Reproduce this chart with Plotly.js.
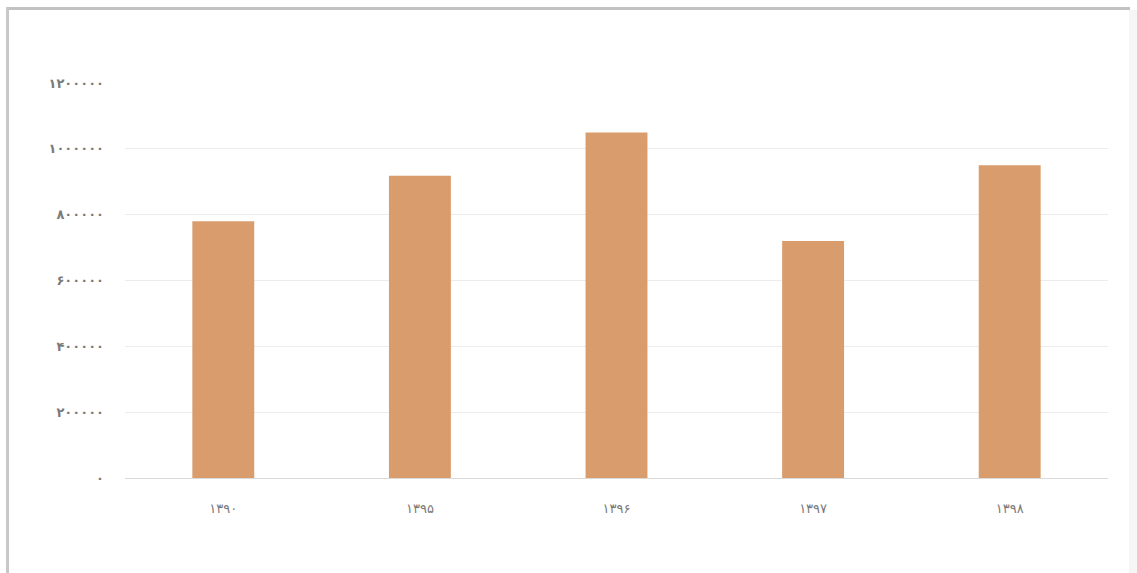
<!DOCTYPE html>
<html>
<head>
<meta charset="utf-8">
<script src="https://cdn.plot.ly/plotly-3.0.1.min.js"></script>
<style>
  html, body { margin: 0; padding: 0; background: #fff; width: 1137px; height: 573px; overflow: hidden; }
  #chart { position: absolute; left: 0; top: 0; width: 1137px; height: 573px; }
  #frameTop { position: absolute; left: 6px; top: 7px; width: 1124px; height: 3px; background: #c2c2c2; pointer-events: none; }
  #frameLeft { position: absolute; left: 6px; top: 7px; width: 3px; height: 566px; background: #c8c8c8; pointer-events: none; }
  #frameRight { position: absolute; left: 1129px; top: 10px; width: 8px; height: 563px; background: #f6f6f6; pointer-events: none; }
</style>
</head>
<body>
<div id="chart"></div>
<div id="frameTop"></div>
<div id="frameLeft"></div>
<div id="frameRight"></div>
<script>
const categories = ["۱۳۹۰", "۱۳۹۵", "۱۳۹۶", "۱۳۹۷", "۱۳۹۸"];
const values = [780000, 918000, 1050000, 720000, 950000];
const yTickVals = [0, 200000, 400000, 600000, 800000, 1000000, 1200000];
const yTickText = ["۰", "۲۰۰۰۰۰", "۴۰۰۰۰۰", "۶۰۰۰۰۰", "۸۰۰۰۰۰", "۱۰۰۰۰۰۰", "۱۲۰۰۰۰۰"];

const trace = {
  type: "bar",
  x: categories,
  y: values,
  marker: { color: "#D99D6D" },
  hoverinfo: "none"
};

const layout = {
  width: 1137,
  height: 573,
  margin: { l: 125, r: 29, t: 83, b: 95 },
  paper_bgcolor: "rgba(0,0,0,0)",
  plot_bgcolor: "rgba(0,0,0,0)",
  bargap: 0.685,
  showlegend: false,
  font: { family: "DejaVu Sans, sans-serif", color: "#7f7f7f", size: 12 },
  xaxis: {
    type: "category",
    showgrid: false,
    showline: true,
    linecolor: "#d9d9d9",
    linewidth: 1,
    ticks: "",
    ticklabelstandoff: 18,
    tickfont: { size: 13, color: "#7a7a7a" },
    fixedrange: true
  },
  yaxis: {
    range: [0, 1200000],
    tickvals: yTickVals,
    ticktext: yTickText,
    showgrid: true,
    gridcolor: "#ececec",
    gridwidth: 1,
    zeroline: false,
    showline: false,
    ticks: "",
    ticklabelstandoff: 20,
    tickfont: { size: 13, color: "#7a7a7a", weight: "bold" },
    fixedrange: true
  }
};

Plotly.newPlot("chart", [trace], layout, { displayModeBar: false, staticPlot: true });
</script>
</body>
</html>
